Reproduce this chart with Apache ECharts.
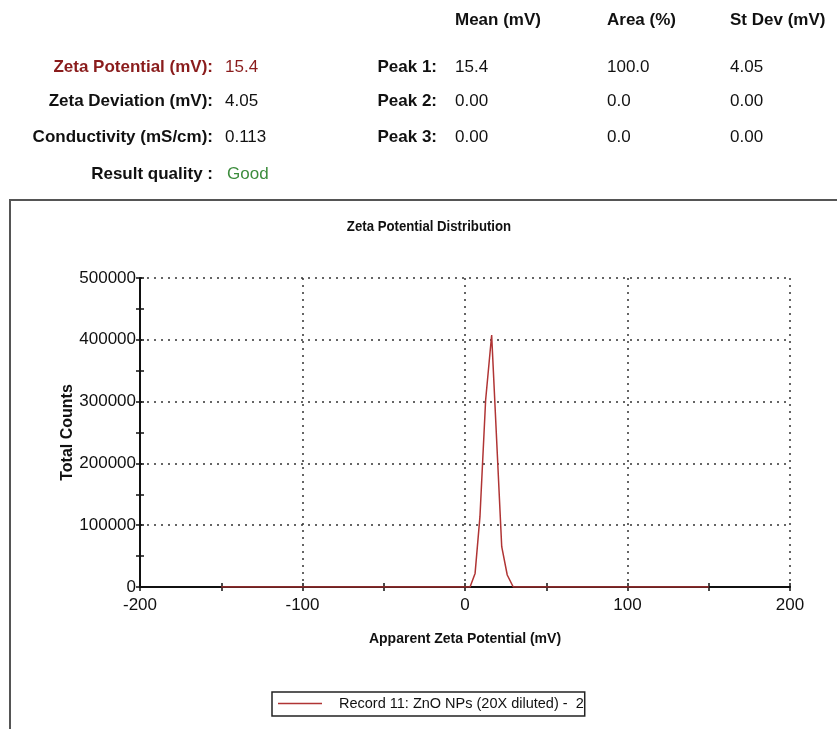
<!DOCTYPE html>
<html><head><meta charset="utf-8">
<script src="https://cdn.jsdelivr.net/npm/echarts@6/dist/echarts.min.js"></script>
<style>html,body{margin:0;padding:0;background:#fff}#c{width:837px;height:729px}</style>
</head><body><div id="c"></div>
<script>
const zetaMV = [-150, 3.1, 6.2, 9.2, 12.7, 16.4, 22.6, 26.0, 29.7, 150];
const totalCounts = [0, 0, 22000, 113800, 302600, 407800, 65200, 19400, 0, 0];
const seriesName = 'Record 11: ZnO NPs (20X diluted) -  2';
const summaryLabels = ['Zeta Potential (mV):', 'Zeta Deviation (mV):', 'Conductivity (mS/cm):', 'Result quality :'];
const summaryValues = ['15.4', '4.05', '0.113', 'Good'];
const peakLabels = ['Peak 1:', 'Peak 2:', 'Peak 3:'];
const colHeaders = ['Mean (mV)', 'Area (%)', 'St Dev (mV)'];
const peakMean = ['15.4', '0.00', '0.00'];
const peakArea = ['100.0', '0.0', '0.0'];
const peakStDev = ['4.05', '0.00', '0.00'];
const chartTitle = 'Zeta Potential Distribution';

const FF = "'Liberation Sans',Arial,sans-serif";
const red = '#8a1c1c';
const lineRed = '#b03434';
const rowsY = [67, 101, 137, 174];
const g = [];
function txt(x, y, s, opt, extra) {
  g.push(Object.assign({type:'text', x:x, y:y, style:Object.assign({text:s, font:'bold 17px '+FF, fill:'#111', textAlign:'left', textVerticalAlign:'middle'}, opt||{})}, extra||{}));
}
summaryLabels.forEach((s,i)=>{
  txt(213, rowsY[i], s, {textAlign:'right', fill: i===0 ? red : '#111'});
});
summaryValues.forEach((s,i)=>{
  txt(i===3?227:225, rowsY[i], s, {font:'17px '+FF, fill: i===0 ? red : (i===3 ? '#3c8c3c' : '#111')});
});
const colX = [455, 607, 730];
colHeaders.forEach((s,i)=>txt(colX[i], 20, s));
peakLabels.forEach((s,i)=>{
  txt(437, rowsY[i], s, {textAlign:'right'});
  txt(colX[0], rowsY[i], peakMean[i], {font:'17px '+FF});
  txt(colX[1], rowsY[i], peakArea[i], {font:'17px '+FF});
  txt(colX[2], rowsY[i], peakStDev[i], {font:'17px '+FF});
});
// chart title (slightly condensed like the reference)
txt(429, 227, chartTitle, {font:'bold 15px '+FF, textAlign:'center'}, {scaleX:0.88});
// frame
g.push({type:'polyline', shape:{points:[[10,729],[10,200],[837,200]]}, style:{stroke:'#555', lineWidth:2, fill:null}});

const chart = echarts.init(document.getElementById('c'), null, {renderer:'canvas'});
const axisLbl = {fontFamily:FF, fontSize:17, color:'#111'};
const dotted = {show:true, lineStyle:{color:'#333', type:[2,5], width:1.5}};
const tickStyle = {color:'#111', width:1.5};
chart.setOption({
  animation:false,
  graphic:g,
  legend:{left:272, top:692, itemWidth:44, itemHeight:1.5, itemGap:0, padding:[4,1,5,6], borderColor:'#222', borderWidth:1.5, borderRadius:0,
    textStyle:{fontFamily:FF, fontSize:14.5, color:'#111', padding:[0,0,0,12]},
    data:[{name:seriesName, icon:'rect', itemStyle:{color:lineRed}}]},
  grid:{left:140, right:47, top:278, bottom:142, containLabel:false},
  xAxis:[{type:'value', min:-200, max:200, interval:100, position:'bottom',
    name:'Apparent Zeta Potential (mV)', nameLocation:'middle', nameGap:45,
    nameTextStyle:{fontFamily:FF, fontSize:14, fontWeight:'bold', color:'#111'},
    axisLine:{onZero:false, lineStyle:{color:'#111', width:2}}, axisTick:{show:true, length:4, lineStyle:tickStyle},
    minorTick:{show:true, splitNumber:2, length:4, lineStyle:tickStyle},
    axisLabel:Object.assign({margin:10}, axisLbl), splitLine:dotted},
   {type:'value', min:-200, max:200, interval:100, position:'bottom', offset:0,
    axisLine:{show:false, onZero:false}, axisTick:{show:true, inside:true, length:4, lineStyle:tickStyle},
    minorTick:{show:true, splitNumber:2, length:4, lineStyle:tickStyle},
    axisLabel:{show:false}, splitLine:{show:false}}],
  yAxis:[{type:'value', min:0, max:500000, interval:100000, position:'left',
    name:'Total Counts', nameLocation:'middle', nameGap:64, nameMoveOverlap:false,
    nameTextStyle:{fontFamily:FF, fontSize:16, fontWeight:'bold', color:'#111'},
    axisLine:{show:true, onZero:false, lineStyle:{color:'#111', width:2}}, axisTick:{show:true, length:4, lineStyle:tickStyle},
    minorTick:{show:true, splitNumber:2, length:4, lineStyle:tickStyle},
    axisLabel:Object.assign({margin:4, formatter:v=>String(v)}, axisLbl), splitLine:dotted},
   {type:'value', min:0, max:500000, interval:100000, position:'left', offset:0,
    axisLine:{show:false, onZero:false}, axisTick:{show:true, inside:true, length:4, lineStyle:tickStyle},
    minorTick:{show:true, splitNumber:2, length:4, lineStyle:tickStyle},
    axisLabel:{show:false}, splitLine:{show:false}}],
  series:[{name:seriesName, type:'line', data:zetaMV.map((x,i)=>[x,totalCounts[i]]), showSymbol:false, symbol:'none',
    lineStyle:{color:lineRed, width:1.5}, itemStyle:{color:lineRed}, z:5}]
});
</script></body></html>
